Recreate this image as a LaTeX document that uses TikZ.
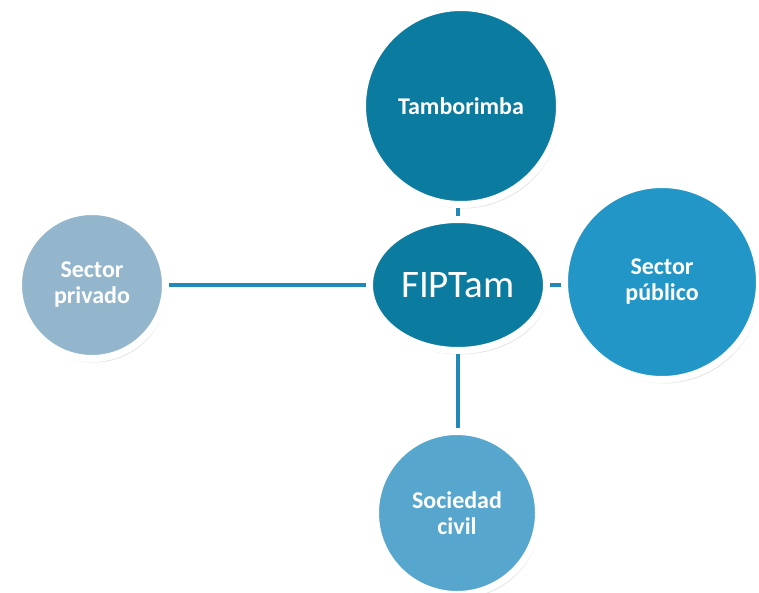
\documentclass[tikz,border=0pt]{standalone}
\usepackage{fontspec}
\setmainfont{Carlito}
\usetikzlibrary{shapes.geometric,shadows}
\definecolor{tealdark}{RGB}{11,123,160}
\definecolor{bluemid}{RGB}{33,150,199}
\definecolor{bluelight}{RGB}{86,166,205}
\definecolor{bluegrey}{RGB}{147,182,205}
\definecolor{linkblue}{RGB}{31,138,186}
\begin{document}
\begin{tikzpicture}[x = 1pt, y = -1pt,
  actor/.style = {circle, draw = white, line width = 7pt, text = white, align = center,
    font = \fontsize{24}{26}\selectfont\bfseries, inner sep = 0pt,
    drop shadow = {opacity = 0.22, shadow xshift = 2pt, shadow yshift = -4pt}},
  link/.style = {linkblue, line width = 4pt}]
\useasboundingbox (0,0) rectangle (759,592);
\node[actor, fill = tealdark, minimum size = 197] (tamb) at (461,106) {Tamborimba};
\node[actor, fill = bluemid, minimum size = 195] (pub) at (662,282) {Sector\\público};
\node[actor, fill = bluegrey, minimum size = 147] (priv) at (92,285) {Sector\\privado};
\node[actor, fill = bluelight, minimum size = 163] (soc) at (457,513) {Sociedad\\civil};
\node[actor, ellipse, fill = tealdark, minimum width = 177, minimum height = 131,
  font = \fontsize{39}{42}\selectfont] (fip) at (458,285) {FIPTam};
% connectors
\draw[link] (priv.east |- fip) -- (fip.west);
\draw[link] (fip.north) -- (fip.north |- tamb.south);
\draw[link] (fip.east) -- (fip -| pub.west);
\draw[link] (fip.south) -- (fip.south |- soc.north);
\end{tikzpicture}
\end{document}
